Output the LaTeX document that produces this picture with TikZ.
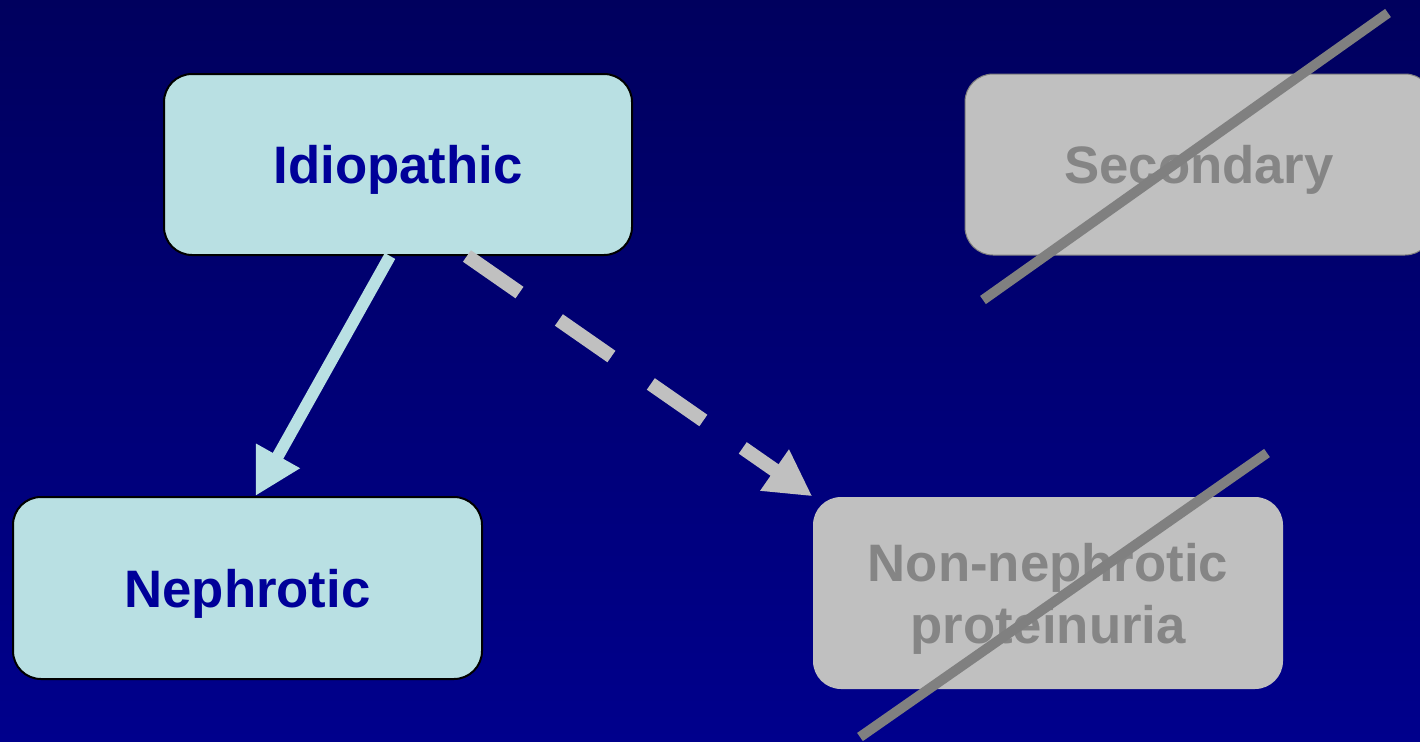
\documentclass[tikz,border=0pt]{standalone}
\usepackage{fontspec}
\setmainfont{Liberation Sans}
\usepackage{xcolor}
\usetikzlibrary{arrows.meta}
\definecolor{bgtop}{RGB}{0,0,94}
\definecolor{bgbot}{RGB}{0,0,140}
\definecolor{boxcyan}{RGB}{185,224,227}
\definecolor{boxtext}{RGB}{0,0,153}
\definecolor{boxgray}{RGB}{192,192,192}
\definecolor{graytext}{RGB}{133,133,133}
\definecolor{strike}{RGB}{128,128,128}
\begin{document}
\begin{tikzpicture}[
  box/.style={rectangle, rounded corners=0.28cm, inner sep=0pt, align=center, text depth=0pt,
    font=\fontsize{15pt}{17.6pt}\selectfont\bfseries},
  livebox/.style={box, fill=boxcyan, draw=black, line width=0.02cm, text=boxtext},
  deadbox/.style={box, fill=boxgray, text=graytext},
  cross/.style={draw=strike, line width=0.1cm}]
\useasboundingbox (0,0) rectangle (14.2,7.41);
\shade[top color=bgtop, bottom color=bgbot] (0,0) rectangle (14.2,7.41);
\coordinate [] (I) at (3.98,5.765);
\coordinate [] (S) at (11.99,5.765);
\coordinate [] (N) at (2.475,1.53);
\coordinate [] (P) at (10.48,1.48);
\node[livebox, minimum width=4.68cm, minimum height=1.81cm] (idio) at (I) {Idiopathic};
\node[deadbox, draw=strike, line width=0.01cm, minimum width=4.68cm, minimum height=1.81cm] (sec) at (S) {Secondary};
\node[livebox, minimum width=4.69cm, minimum height=1.82cm] (neph) at (N) {Nephrotic};
\node[deadbox, minimum width=4.70cm, minimum height=1.92cm] (nonneph) at (P) {Non-nephrotic\\proteinuria};
\draw[boxcyan, line width=0.12cm, -{Triangle[length=0.46cm,width=0.47cm]}] (idio.265) -- (neph.85);
\draw[boxgray, line width=0.14cm, dash pattern=on 0.64cm off 0.48cm, -{Triangle[length=0.46cm,width=0.47cm]}] (idio.307) -- (nonneph.north west);
\coordinate [] (s1) at (9.83,4.41);
\coordinate [] (s2) at (13.88,7.28);
\coordinate [] (p1) at (8.60,0.04);
\coordinate [] (p2) at (12.67,2.88);
\draw[cross] (s1) -- (s2);
\draw[cross] (p1) -- (p2);
\end{tikzpicture}
\end{document}
